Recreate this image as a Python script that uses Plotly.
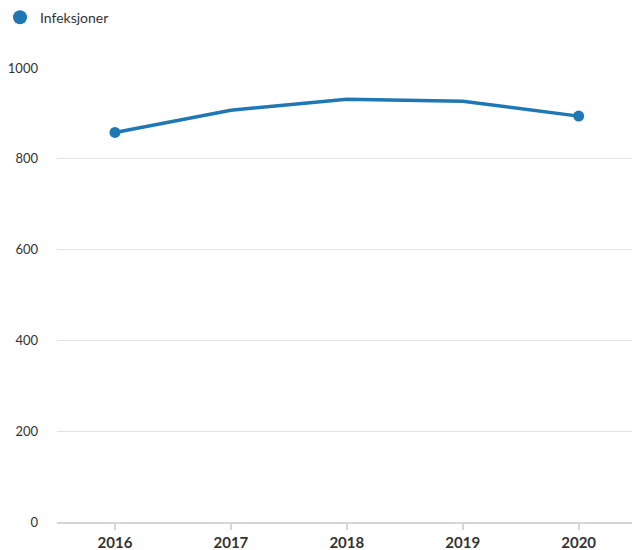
import plotly.graph_objects as go

years = [2016, 2017, 2018, 2019, 2020]
infeksjoner = [858, 907, 931, 927, 894]
series_name = "Infeksjoner"
y_ticks = [0, 200, 400, 600, 800, 1000]

color = "#1f77b4"
font_family = "Lato, 'Open Sans', sans-serif"

fig = go.Figure()
fig.add_trace(go.Scatter(
    x=years, y=infeksjoner, mode="lines+markers",
    line=dict(color=color, width=3.5),
    marker=dict(size=[11, 0, 0, 0, 11], color=color, opacity=1,
                line=dict(width=0)),
    showlegend=False, hoverinfo="x+y",
))
fig.add_trace(go.Scatter(
    x=[None], y=[None], mode="markers", name=series_name,
    marker=dict(size=14, color=color, opacity=1, line=dict(width=0)),
))

fig.update_layout(
    width=632, height=550,
    margin=dict(l=57, r=0, t=68, b=28),
    plot_bgcolor="white", paper_bgcolor="white",
    font=dict(family=font_family, size=12, color="#333"),
    legend=dict(
        xref="container", yref="container", x=-0.01, y=0.997,
        xanchor="left", yanchor="top", orientation="h",
        itemwidth=30,
        font=dict(size=14, color="#333"),
    ),
    xaxis=dict(
        range=[2015.5, 2020.46], tickvals=years, ticktext=[str(y) for y in years],
        showgrid=False, showline=True, linecolor="#d6d6d6", linewidth=2,
        ticks="outside", ticklen=6, tickwidth=2, tickcolor="#d6d6d6",
        tickfont=dict(size=15, color="#333", family=font_family, weight="bold"),
        zeroline=False, fixedrange=True,
    ),
    yaxis=dict(
        range=[0, 1000], tickvals=y_ticks, showgrid=True, gridcolor="#e3e3e3",
        gridwidth=1, zeroline=False, showline=False, ticks="",
        ticklabelstandoff=18, tickfont=dict(size=13, color="#333"),
        fixedrange=True,
    ),
)

fig.write_html("out.html")
